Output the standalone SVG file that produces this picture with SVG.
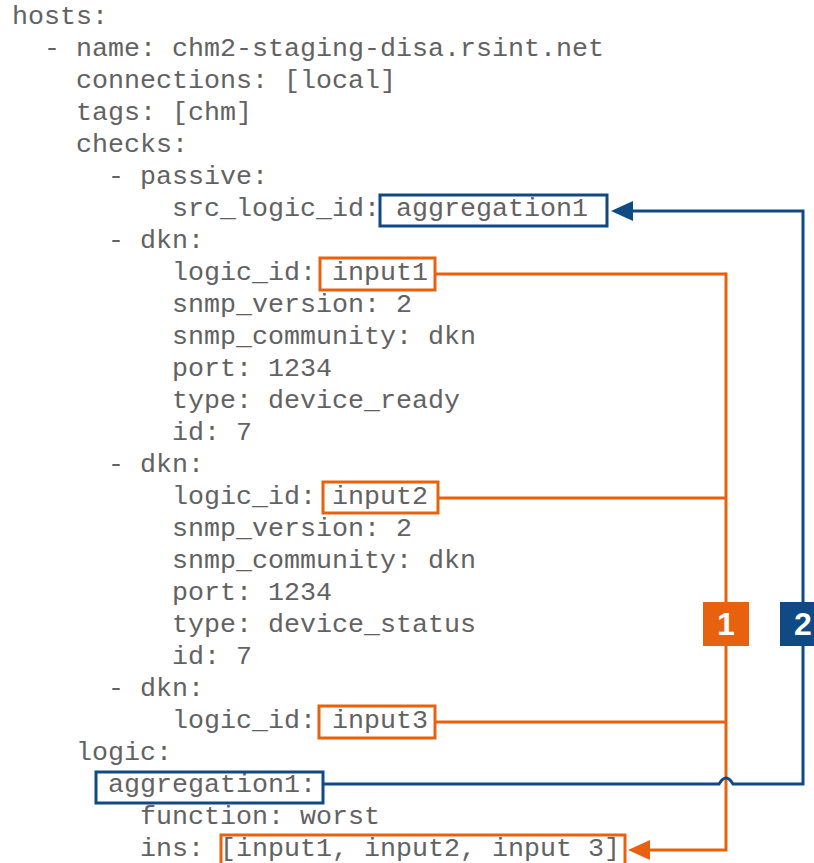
<svg xmlns="http://www.w3.org/2000/svg" width="814" height="863" viewBox="0 0 814 863">
  <style>
    .code { font-family: "Liberation Mono", "Courier New", monospace; font-size: 26.667px; fill: #626262; }
    .box-o { fill: none; stroke: #e8610f; stroke-width: 3; }
    .box-b { fill: none; stroke: #0f4a84; stroke-width: 3; }
    .wire-o { fill: none; stroke: #e8610f; stroke-width: 3; }
    .wire-b { fill: none; stroke: #0f4a84; stroke-width: 3; }
    .badge-num { font-family: "Liberation Sans", Arial, sans-serif; font-size: 32px; font-weight: bold; fill: #ffffff; text-anchor: middle; }
  </style>
  <defs>
    <marker id="head-o" markerUnits="userSpaceOnUse" markerWidth="22" markerHeight="22" refX="0" refY="10" orient="auto">
      <path d="M0,0 L22,10 L0,20 z" fill="#e8610f"/>
    </marker>
    <marker id="head-b" markerUnits="userSpaceOnUse" markerWidth="22" markerHeight="22" refX="0" refY="10" orient="auto">
      <path d="M0,0 L22,10 L0,20 z" fill="#0f4a84"/>
    </marker>
  </defs>
  <rect width="814" height="863" fill="#ffffff"/>

  <!-- YAML listing: baseline every 32px, 16px per character column -->
  <g id="listing" class="code">
    <text x="12" y="24">hosts:</text>
    <text x="44" y="56">- name: chm2-staging-disa.rsint.net</text>
    <text x="76" y="88">connections: [local]</text>
    <text x="76" y="120">tags: [chm]</text>
    <text x="76" y="152">checks:</text>
    <text x="108" y="184">- passive:</text>
    <text x="172" y="216">src_logic_id: aggregation1</text>
    <text x="108" y="248">- dkn:</text>
    <text x="172" y="280">logic_id: input1</text>
    <text x="172" y="312">snmp_version: 2</text>
    <text x="172" y="344">snmp_community: dkn</text>
    <text x="172" y="376">port: 1234</text>
    <text x="172" y="408">type: device_ready</text>
    <text x="172" y="440">id: 7</text>
    <text x="108" y="472">- dkn:</text>
    <text x="172" y="504">logic_id: input2</text>
    <text x="172" y="536">snmp_version: 2</text>
    <text x="172" y="568">snmp_community: dkn</text>
    <text x="172" y="600">port: 1234</text>
    <text x="172" y="632">type: device_status</text>
    <text x="172" y="664">id: 7</text>
    <text x="108" y="696">- dkn:</text>
    <text x="172" y="728">logic_id: input3</text>
    <text x="76" y="760">logic:</text>
    <text x="108" y="792">aggregation1:</text>
    <text x="140" y="824">function: worst</text>
    <text x="140" y="856">ins: [input1, input2, input 3]</text>
  </g>

  <!-- highlighted values -->
  <g id="src-logic-ref"><rect class="box-b" x="380" y="195" width="227" height="31"/></g>
  <g id="input1"><rect class="box-o" x="320" y="258" width="115" height="32"/></g>
  <g id="input2"><rect class="box-o" x="323" y="482" width="115" height="31"/></g>
  <g id="input3"><rect class="box-o" x="319" y="706" width="116" height="32"/></g>
  <g id="aggregation1"><rect class="box-b" x="96" y="772" width="227" height="31"/></g>
  <g id="ins-list"><rect class="box-o" x="221" y="835" width="404" height="32"/></g>

  <!-- connectors -->
  <g id="connectors">
    <path class="wire-o" d="M435,274 H726"/>
    <path class="wire-o" d="M438,498 H726"/>
    <path class="wire-o" d="M435,722 H726"/>
    <path class="wire-o" d="M726,272.5 V850 H650" marker-end="url(#head-o)"/>
    <path class="wire-b" d="M323,784 H719 Q726,772 733,784 H803 V211 H633" marker-end="url(#head-b)"/>
  </g>

  <!-- step badges -->
  <g id="badge-1">
    <rect x="703" y="602" width="46" height="44" fill="#e8610f"/>
    <text class="badge-num" x="726" y="635">1</text>
  </g>
  <g id="badge-2">
    <rect x="780" y="602" width="46" height="44" fill="#0f4a84"/>
    <text class="badge-num" x="803" y="635">2</text>
  </g>
</svg>
